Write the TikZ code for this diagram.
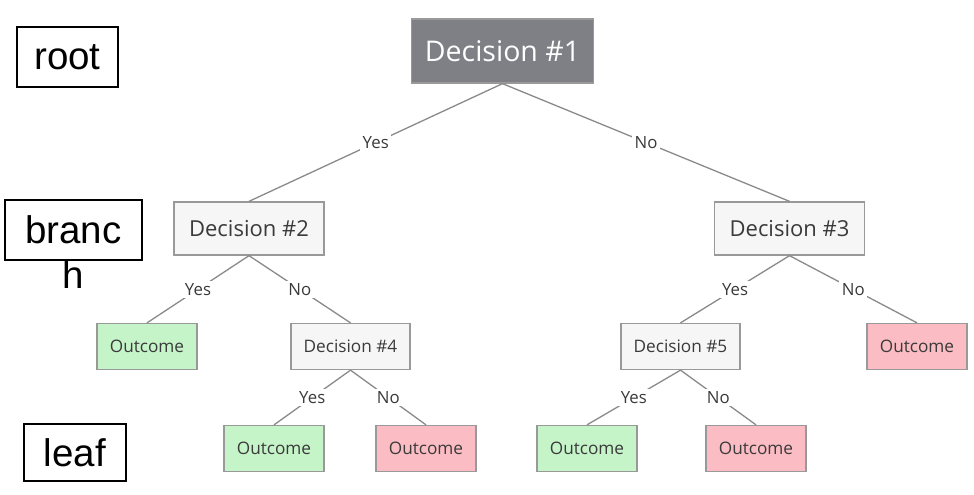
\documentclass[tikz,border=0pt]{standalone}
\usepackage{fontspec}
\setmainfont{Open Sans}
\newfontfamily\arialf{Liberation Sans}
\definecolor{rootfill}{HTML}{7F7F86}
\definecolor{boxline}{HTML}{999999}
\definecolor{lightfill}{HTML}{F6F6F6}
\definecolor{greenfill}{HTML}{C6F4C9}
\definecolor{pinkfill}{HTML}{FBBCC3}
\definecolor{textc}{HTML}{3A3A3A}
\definecolor{edgec}{HTML}{8A8A8A}
\begin{document}
\begin{tikzpicture}[x=1pt,y=-1pt,
  box/.style={draw=boxline, line width=1.3pt, inner sep=0pt, text=textc},
  dtop/.style={box, fill=rootfill, text=white, minimum width=182pt, minimum height=64pt, font=\fontsize{28.5}{33}\selectfont},
  dmid/.style={box, fill=lightfill, minimum width=150pt, minimum height=53pt, font=\fontsize{22}{26}\selectfont},
  dlow/.style={box, fill=lightfill, minimum width=119pt, minimum height=46pt, font=\fontsize{17.2}{20}\selectfont},
  outg/.style={box, fill=greenfill, minimum width=100pt, minimum height=46pt, font=\fontsize{17.2}{20}\selectfont},
  outp/.style={box, fill=pinkfill, minimum width=100pt, minimum height=46pt, font=\fontsize{17.2}{20}\selectfont},
  edge/.style={draw=edgec, line width=1.3pt},
  lab/.style={fill=white, inner sep=2.5pt, text=textc, font=\fontsize{16.8}{20}\selectfont},
  tagfont/.style={font=\arialf\fontsize{38.5}{44}\selectfont},
  tag/.style={draw=black, line width=1.5pt, inner sep=0pt, tagfont}
]
\useasboundingbox (0,0) rectangle (974,495);
\fill[white] (0,0) rectangle (974,495);

% side tags
\node[tag, minimum width=101pt, minimum height=60pt] (troot) at (67.5,57) {root};
\node[tag, minimum width=137pt, minimum height=60pt] (tbranch) at (73.5,230) {branc};
\node[tagfont, inner sep=0pt] (tbranchh) at (73.5,275) {h};
\node[tag, minimum width=102pt, minimum height=57pt] (tleaf) at (75,452.5) {leaf};

% tree nodes
\node[dtop] (d1) at (502.5,51) {Decision \#1};
\node[dmid] (d2) at (249,228.5) {Decision \#2};
\node[dmid] (d3) at (789.5,228.5) {Decision \#3};
\node[outg] (o1) at (147,346.5) {Outcome};
\node[dlow] (d4) at (350.5,346.5) {Decision \#4};
\node[dlow] (d5) at (680.5,346.5) {Decision \#5};
\node[outp] (o2) at (917,346.5) {Outcome};
\node[outg] (o3) at (274,448.5) {Outcome};
\node[outp] (o4) at (426,448.5) {Outcome};
\node[outg] (o5) at (587,448.5) {Outcome};
\node[outp] (o6) at (756,448.5) {Outcome};

% connectors
\draw[edge] (d1.south) -- node[lab]{Yes} (d2.north);
\draw[edge] (d1.south) -- node[lab]{No} (d3.north);
\draw[edge] (d2.south) -- node[lab]{Yes} (o1.north);
\draw[edge] (d2.south) -- node[lab]{No} (d4.north);
\draw[edge] (d3.south) -- node[lab]{Yes} (d5.north);
\draw[edge] (d3.south) -- node[lab]{No} (o2.north);
\draw[edge] (d4.south) -- node[lab]{Yes} (o3.north);
\draw[edge] (d4.south) -- node[lab]{No} (o4.north);
\draw[edge] (d5.south) -- node[lab]{Yes} (o5.north);
\draw[edge] (d5.south) -- node[lab]{No} (o6.north);
\end{tikzpicture}
\end{document}
